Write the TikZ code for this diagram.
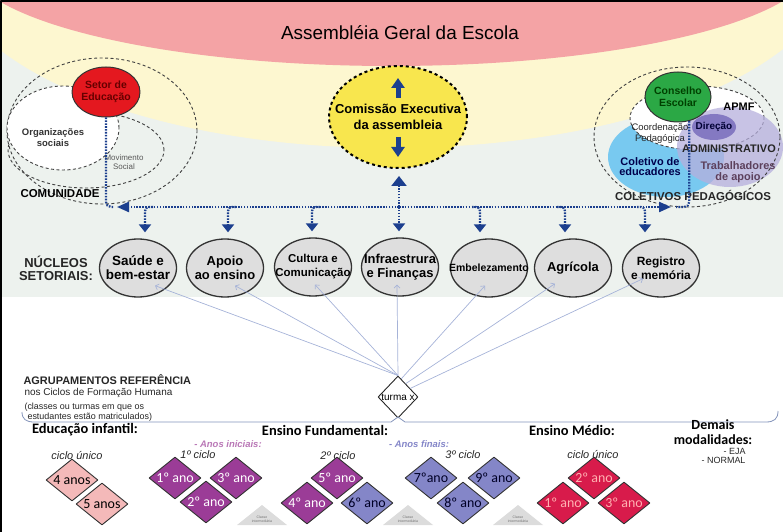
\documentclass[tikz,border=0pt]{standalone}
\usepackage{fontspec}
\setmainfont{Liberation Sans}
\newfontfamily\calibri{Carlito}
\usetikzlibrary{shapes.geometric,arrows.meta,calc}

\begin{document}
\begin{tikzpicture}[x=1bp,y=-1bp,line join=bevel,
  >={Triangle[length=8bp,width=12bp]},
  flow/.style={draw=navy,line width=2.2bp,dash pattern=on 1.6bp off 1.3bp},
  feed/.style={draw=feedblue,line width=0.7bp,-{Straight Barb[length=3bp,width=6bp]}},
  ringdash/.style={draw=black!75,line width=0.9bp,dash pattern=on 3bp off 2.5bp},
  blob/.style={ellipse,inner sep=0bp},
  nucleo/.style={ellipse,draw=black!80,line width=1.3bp,fill=nucgray,minimum width=77bp,minimum height=58bp,inner sep=0bp},
  nuctext/.style={align=center,font=\fontsize{13}{14}\selectfont\bfseries},
  ano/.style={diamond,draw=black!80,line width=0.9bp,fill=#1,minimum width=52bp,minimum height=42bp,inner sep=0bp,font=\calibri\fontsize{14}{14}\selectfont},
  heading/.style={font=\calibri\fontsize{14.5}{12.5}\selectfont\bfseries,align=center},
  ciclo/.style={font=\fontsize{11}{12}\selectfont\itshape,text=black!85},
  classe/.style={font=\fontsize{3.5}{4}\selectfont,text=black!55,align=center}]
\definecolor{navy}{HTML}{1C3F8E}
\definecolor{feedblue}{HTML}{A6B3D8}
\definecolor{bggray}{HTML}{EDF2EE}
\definecolor{bgyellow}{HTML}{FDF7D0}
\definecolor{bgpink}{HTML}{F4A3A5}
\definecolor{setorred}{HTML}{E4181F}
\definecolor{conselhogreen}{HTML}{2BA845}
\definecolor{edublue}{HTML}{78C9F0}
\definecolor{trabpurple}{HTML}{B6AFDD}
\definecolor{direcaopurple}{HTML}{8479C2}
\definecolor{comyellow}{HTML}{F8E64E}
\definecolor{nucgray}{HTML}{DEDEDE}
\definecolor{infpink}{HTML}{F4B9B9}
\definecolor{magenta}{HTML}{9B3C97}
\definecolor{lilac}{HTML}{8486C8}
\definecolor{crimson}{HTML}{D81B4B}
\definecolor{classegray}{HTML}{DCDCDC}
\definecolor{bracecol}{HTML}{8393BA}
\useasboundingbox (0,0) rectangle (783,532);

% Background
\begin{scope}
  \clip (0,0) rectangle (783,532);
  \fill[bggray] (0,0) rectangle (783,297);
  \fill[bgyellow] (391,-40) ellipse (445 and 188);
  \fill[bgpink] (391,-40) ellipse (425 and 106);
\end{scope}
\draw[line width=2bp] (1,532) -- (1,1) -- (783,1);

\node[font=\fontsize{19}{20}\selectfont] (assembleia) at (400,33) {Assembléia Geral da Escola};

% Node: comunidade
\node[blob,ringdash,minimum width=190bp,minimum height=146bp] (comunidade) at (102,131) {};
\node[blob,ringdash,minimum width=156bp,minimum height=76bp] (movimento) at (86,150) {};
\node[blob,ringdash,fill=white,minimum width=112bp,minimum height=84bp] (organizacoes) at (63,128) {};
\node[blob,draw=black!80,line width=1bp,fill=setorred,minimum width=68bp,minimum height=50bp,
  label={[align=center,font=\fontsize{10.5}{12}\selectfont\bfseries,text=red!40!black]center:Setor de\\Educação}] (setor) at (106,92) {};
\node[align=center,font=\fontsize{9.5}{11}\selectfont\bfseries,text=black!80] (orgtxt) at (53,138) {Organizações\\sociais};
\node[align=center,font=\fontsize{8}{9}\selectfont,text=black!65] (movtxt) at (124,162) {Movimento\\Social};
\node[font=\fontsize{11.5}{12}\selectfont\bfseries] (comtxt) at (60,194) {COMUNIDADE};

% Node: coletivos
\node[blob,fill=edublue,minimum width=116bp,minimum height=80bp] (educadores) at (666,157) {};
\node[blob,ringdash,fill=white,minimum width=134bp,minimum height=64bp] (apmf) at (697,118) {};
\node[blob,fill=trabpurple,fill opacity=0.75,minimum width=106bp,minimum height=80bp] (trabalhadores) at (730,147) {};
\node[blob,fill=direcaopurple,minimum width=44bp,minimum height=26bp,
  label={[font=\fontsize{10}{11}\selectfont\bfseries,text=blue!20!black]center:Direção}] (direcao) at (714,127) {};
\node[blob,draw=black!80,line width=1bp,fill=conselhogreen,minimum width=66bp,minimum height=50bp,
  label={[align=center,font=\fontsize{10.5}{12}\selectfont\bfseries,text=green!25!black]center:Conselho\\Escolar}] (conselho) at (678,97) {};
\node[blob,ringdash,minimum width=186bp,minimum height=140bp] (coletivos) at (687,137) {};
\node[font=\fontsize{11}{12}\selectfont\bfseries] (apmftxt) at (739,107) {APMF};
\node[align=center,font=\fontsize{9.5}{11}\selectfont,text=black!85] (coordtxt) at (660,134) {Coordenação\\Pedagógica};
\node[font=\fontsize{11}{12}\selectfont\bfseries,text=black!85] (admtxt) at (729,149) {ADMINISTRATIVO};
\node[align=center,font=\fontsize{11}{10}\selectfont\bfseries,text=blue!30!black] (edutxt) at (650,167) {Coletivo de\\educadores};
\node[align=center,font=\fontsize{11}{11}\selectfont\bfseries,text=violet!30!black!75] (trabtxt) at (738,172) {Trabalhadores\\de apoio};
\node[font=\fontsize{11.5}{12}\selectfont\bfseries,text=black!85] (coltxt) at (693,195) {COLETIVOS PEDAGÓGICOS};

% Node: comissao
\node[blob,draw=black,line width=2bp,dash pattern=on 3bp off 3bp,fill=comyellow,minimum width=138bp,minimum height=102bp,
  label={[align=center,font=\fontsize{13}{16}\selectfont\bfseries]center:Comissão Executiva\\da assembleia}] (comissao) at (398,117) {};
\draw[navy,line width=5bp,-{Triangle[length=10bp,width=13bp]}] ([yshift=19bp]comissao.center) -- ([yshift=39bp]comissao.center);
\draw[navy,line width=5bp,-{Triangle[length=10bp,width=13bp]}] ([yshift=-20bp]comissao.center) -- ([yshift=-40bp]comissao.center);

% Node: nucleos
\node[align=center,font=\fontsize{13}{13}\selectfont\bfseries,text=black!85] (nucleostxt) at (56,268) {NÚCLEOS\\SETORIAIS:};
\node[nucleo,label={[nuctext,font=\fontsize{13.5}{14}\selectfont\bfseries]center:Saúde e\\bem-estar}] (saude) at (138,268) {};
\node[nucleo,label={[nuctext]center:Apoio\\ao ensino}] (apoioensino) at (225,268) {};
\node[nucleo,label={[nuctext,font=\fontsize{11.5}{14}\selectfont\bfseries]center:Cultura e\\Comunicação}] (cultura) at (313,267) {};
\node[nucleo,label={[nuctext]center:Infraestrura\\e Finanças}] (infra) at (400,267) {};
\node[nucleo,label={[nuctext,font=\fontsize{10.5}{12}\selectfont\bfseries]center:Embelezamento}] (embelezamento) at (489,268) {};
\node[nucleo,label={[nuctext]center:Agrícola}] (agricola) at (573,268) {};
\node[nucleo,label={[nuctext,font=\fontsize{12}{14}\selectfont\bfseries]center:Registro\\e memória}] (registro) at (661,268) {};

% Edge: hub -> nucleos, comissao, setor, conselho
\coordinate (hub) at (399,207);
\coordinate (hubL) at (117,207);
\coordinate (hubR) at (671,207);
\draw[flow,rounded corners=5bp] (setor.south) |- ([xshift=-4bp]hubL);
\draw[flow,rounded corners=5bp] (conselho.-65) |- ([xshift=5bp]hubR);
\draw[flow,-{Triangle[length=12bp,width=10bp]}] (hub) -- (hubL);
\draw[flow,-{Triangle[length=12bp,width=10bp]}] (hub) -- (hubR);
\draw[flow,-{Triangle[length=10bp,width=15bp]},shorten >=7bp] (hub) -- (hub |- comissao.south);
\draw[flow,->,shorten >=6bp,rounded corners=4bp] ($(saude.north |- hub)+(15,0)$) -| ([xshift=7bp]saude.north);
\draw[flow,->,shorten >=6bp,rounded corners=4bp] ($(apoioensino.north |- hub)+(11,0)$) -| ([xshift=3bp]apoioensino.north);
\draw[flow,->,shorten >=6bp,rounded corners=4bp] ($(cultura.north |- hub)+(7,0)$) -| ([xshift=-1bp]cultura.north);
\draw[flow,->,shorten >=6bp] (hub) -- (hub |- infra.north);
\draw[flow,->,shorten >=6bp,rounded corners=4bp] ($(embelezamento.north |- hub)+(-17,0)$) -| ([xshift=-9bp]embelezamento.north);
\draw[flow,->,shorten >=6bp,rounded corners=4bp] ($(agricola.north |- hub)+(-16,0)$) -| ([xshift=-8bp]agricola.north);
\draw[flow,->,shorten >=6bp,rounded corners=4bp] ($(registro.north |- hub)+(-24,0)$) -| ([xshift=-16bp]registro.north);

% Node: turma
\node[diamond,draw=black!85,line width=0.9bp,fill=white,minimum width=40bp,minimum height=42bp,inner sep=0bp,
  font=\fontsize{10}{10}\selectfont] (turma) at (398,397) {\makebox[0pt]{turma x}};

% Edge: turma -> nucleos
\draw[feed] (turma.north) -- ([xshift=17bp,yshift=12bp]saude.south);
\draw[feed] (turma.north) -- ([xshift=10bp,yshift=12bp]apoioensino.south);
\draw[feed] (turma.north) -- ([xshift=2bp,yshift=12bp]cultura.south);
\draw[feed] (turma.north) -- ([xshift=-3bp,yshift=12bp]infra.south);
\draw[feed] (turma.80) -- ([xshift=-4bp,yshift=12bp]embelezamento.south);
\draw[feed] (turma.60) -- ([xshift=-18bp,yshift=14bp]agricola.south);
\draw[feed] (turma.35) -- ([xshift=-18bp,yshift=19bp]registro.south);

% Agrupamentos
\node[anchor=west,font=\fontsize{11}{12}\selectfont\bfseries,text=black!85] (agrup) at (20,380) {AGRUPAMENTOS REFERÊNCIA};
\node[anchor=west,font=\fontsize{10}{11}\selectfont,text=black!85] (ciclostxt) at (21,393) {nos Ciclos de Formação Humana};
\node[anchor=west,align=left,font=\fontsize{9}{10}\selectfont,text=black!85] (classestxt) at (21,412) {(classes ou turmas em que os\\\hspace{3bp}estudantes estão matriculados)};
\draw[bracecol,line width=0.8bp] (22,412) .. controls (22,419) and (26,422) .. (34,422) -- (391,422) -- (398,417) -- (405,422)
  -- (766,422) .. controls (774,422) and (778,419) .. (778,411);

\node[heading] (infantil) at (85,430) {Educação infantil:};
\node[heading] (fundamental) at (325,430) {Ensino Fundamental:};
\node[heading] (medio) at (572,430) {Ensino Médio:};
\node[heading,font=\calibri\fontsize{14}{14.5}\selectfont\bfseries] (demais) at (713,432) {Demais\\modalidades:};
\node[anchor=east,align=right,font=\fontsize{9}{8.5}\selectfont,text=black!85] (ejatxt) at (749,456) {- EJA\\- NORMAL};
\node[font=\fontsize{9.5}{10}\selectfont\bfseries\itshape,text=magenta!70!white] (iniciais) at (228,444) {- Anos iniciais:};
\node[font=\fontsize{9.5}{10}\selectfont\bfseries\itshape,text=lilac] (finais) at (419,444) {- Anos finais:};
\node[ciclo] (cicloinf) at (77,456) {ciclo único};
\node[ciclo] (ciclo1) at (198,455) {1º ciclo};
\node[ciclo] (ciclo2) at (338,456) {2º ciclo};
\node[ciclo] (ciclo3) at (463,455) {3º ciclo};
\node[ciclo] (ciclomedio) at (593,455) {ciclo único};

% Node: anos
\node[ano=infpink] (inf4) at (72,480) {\makebox[0pt]{4 anos}};
\node[ano=infpink] (inf5) at (102,504) {\makebox[0pt]{5 anos}};
\node[ano=magenta,text=white] (ano1) at (175,478) {\makebox[0pt]{1º ano}};
\node[ano=magenta,text=white] (ano3) at (236,478) {\makebox[0pt]{3º ano}};
\node[ano=magenta,text=white] (ano2) at (206,502) {\makebox[0pt]{2º ano}};
\node[ano=magenta,text=white] (ano5) at (337,478) {\makebox[0pt]{5º ano}};
\node[ano=magenta,text=white] (ano4) at (307,503) {\makebox[0pt]{4º ano}};
\node[ano=lilac,text=blue!15!black] (ano6) at (367,503) {\makebox[0pt]{6º ano}};
\node[ano=lilac,text=blue!15!black] (ano7) at (431,478) {\makebox[0pt]{7ºano}};
\node[ano=lilac,text=blue!15!black] (ano9) at (494,478) {\makebox[0pt]{9º ano}};
\node[ano=lilac,text=blue!15!black] (ano8) at (463,503) {\makebox[0pt]{8º ano}};
\node[ano=crimson,text=red!30!white] (medio2) at (594,478) {\makebox[0pt]{2º ano}};
\node[ano=crimson,text=red!30!white] (medio1) at (563,503) {\makebox[0pt]{1º ano}};
\node[ano=crimson,text=red!30!white] (medio3) at (624,503) {\makebox[0pt]{3º ano}};

% Classe intermediaria
\fill[classegray] (237,525) -- (262,505) -- (287,525) -- cycle;
\fill[classegray] (383,525) -- (408,505) -- (433,525) -- cycle;
\fill[classegray] (493,525) -- (518,505) -- (543,525) -- cycle;
\node[classe] (classe1) at (262,519) {Classe\\intermediária};
\node[classe] (classe2) at (408,519) {Classe\\intermediária};
\node[classe] (classe3) at (518,519) {Classe\\intermediária};
%
\end{tikzpicture}
\end{document}
